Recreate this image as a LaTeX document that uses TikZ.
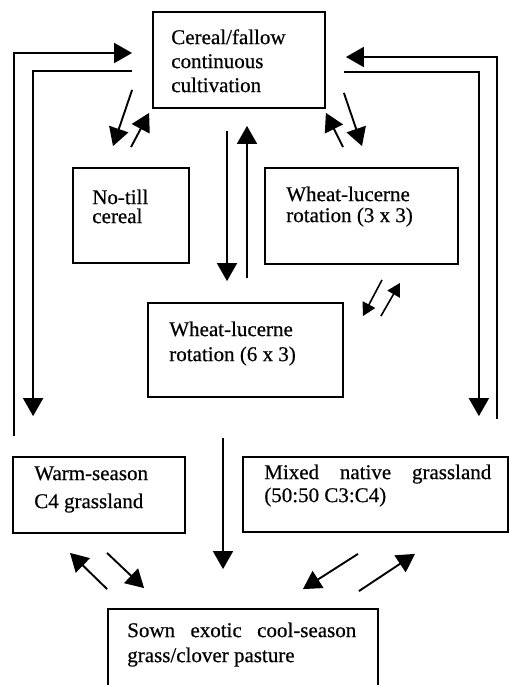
\documentclass[tikz,border=0pt]{standalone}
\usepackage{fontspec}
\setmainfont{Liberation Serif}[FakeBold=0.5]
\usepackage{tikz}
\usetikzlibrary{arrows.meta,calc}
\tikzstyle{block} = [draw, rectangle, line width=1.8pt, inner sep=0pt]
\tikzstyle{txt} = [inner sep=0pt, align=left, anchor=base west]
\tikzstyle{flow} = [draw, line width=1.9pt, ->]
\tikzstyle{small} = [draw, line width=1.6pt, -{Triangle[length=13pt,width=14pt]}]
\newcommand{\fs}[1]{\fontsize{21pt}{#1}\selectfont}

\begin{document}
\begin{tikzpicture}[x=1pt, y=-1pt, >={Triangle[length=18pt,width=20pt]}]
    \clip (0,0) rectangle (510,685);
    % We start by placing the blocks
    \node [block, minimum width=172pt, minimum height=96pt] (cereal) at (239,60) {};
    \node [block, minimum width=116pt, minimum height=95pt] (notill) at (131,215.5) {};
    \node [block, minimum width=193pt, minimum height=96pt] (wl33) at (361.5,216) {};
    \node [block, minimum width=195pt, minimum height=94pt] (wl63) at (245.5,350) {};
    \node [block, minimum width=172pt, minimum height=76pt] (warm) at (99,495) {};
    \node [block, minimum width=265pt, minimum height=75pt] (mixed) at (375.5,494.5) {};
    \node [block, minimum width=270pt, minimum height=96pt] (sown) at (243,657) {};

    % The texts sit in the upper part of each block (base = last line)
    \node [txt, font=\fs{24pt}] (cereal-t) at ([shift={(19,81)}]cereal.north west)
        {Cereal/fallow\\continuous\\cultivation};
    \node [txt, font=\fs{19pt}] (notill-t) at ([shift={(20,56)}]notill.north west)
        {No-till\\cereal};
    \node [txt, font=\fs{21pt}] (wl33-t) at ([shift={(22,55)}]wl33.north west)
        {Wheat-lucerne\\rotation (3 x 3)};
    \node [txt, font=\fs{25pt}] (wl63-t) at ([shift={(22,59)}]wl63.north west)
        {Wheat-lucerne\\rotation (6 x 3)};
    \node [txt, font=\fs{28pt}] (warm-t) at ([shift={(22,52)}]warm.north west)
        {Warm-season\\C4 grassland};
    \node [txt, font=\fs{23pt}] (mixed-t) at ([shift={(22,46)}]mixed.north west)
        {\makebox[227pt][s]{Mixed native grassland}\\(50:50 C3:C4)};
    \node [txt, font=\fs{25pt}] (sown-t) at ([shift={(20,54)}]sown.north west)
        {\makebox[229pt][s]{Sown exotic cool-season}\\grass/clover pasture};

    % Arrows between cereal and the two blocks below it
    \draw [flow] ([shift={(-20,-19)}]cereal.south west) -- ([shift={(-18,-21)}]notill.north);
    \draw [flow] ([shift={(0,-20)}]notill.north) -- ([shift={(-3,4)}]cereal.south west);
    \draw [flow] ([shift={(-18.5,-20)}]wl33.north) -- ([shift={(0,4)}]cereal.south east);
    \draw [flow] ([shift={(18,-16)}]cereal.south east) -- ([shift={(0.5,-21)}]wl33.north);
    \draw [flow] ([shift={(-12,22)}]cereal.south) -- ([shift={(-18.5,-21)}]wl63.north);
    \draw [flow] ([shift={(1.5,-24)}]wl63.north) -- ([shift={(8,17)}]cereal.south);
    \draw [small] ([shift={(20.5,15)}]wl33.south) -- ([shift={(19,14)}]wl63.north east);
    \draw [small] ([shift={(37,14)}]wl63.north east) -- ([shift={(38.5,18)}]wl33.south);

    % The long loops to the grasslands
    \draw [flow] ([shift={(2,-20)}]warm.north west) |- ([shift={(-20,-7)}]cereal.west);
    \draw [flow] ([shift={(-20,11)}]cereal.west) -| ([shift={(21,-40)}]warm.north west);
    \draw [flow] ([shift={(-12,-37)}]mixed.north east) |- ([shift={(20,-3)}]cereal.east);
    \draw [flow] ([shift={(18,12)}]cereal.east) -| ([shift={(-30,-40)}]mixed.north east);

    % Arrows down to the pasture
    \draw [flow] ([shift={(-22.5,40)}]wl63.south) -- ([shift={(-20,-39)}]sown.north);
    \draw [flow] ([shift={(0,-19)}]sown.north west) -- ([shift={(-29,19)}]warm.south);
    \draw [flow] ([shift={(8,19)}]warm.south) -- ([shift={(37,-20)}]sown.north west);
    \draw [flow] ([shift={(-17.5,21)}]mixed.south) -- ([shift={(-76,-19)}]sown.north east);
    \draw [flow] ([shift={(-20,-17)}]sown.north east) -- ([shift={(39.5,21)}]mixed.south);
\end{tikzpicture}
\end{document}
